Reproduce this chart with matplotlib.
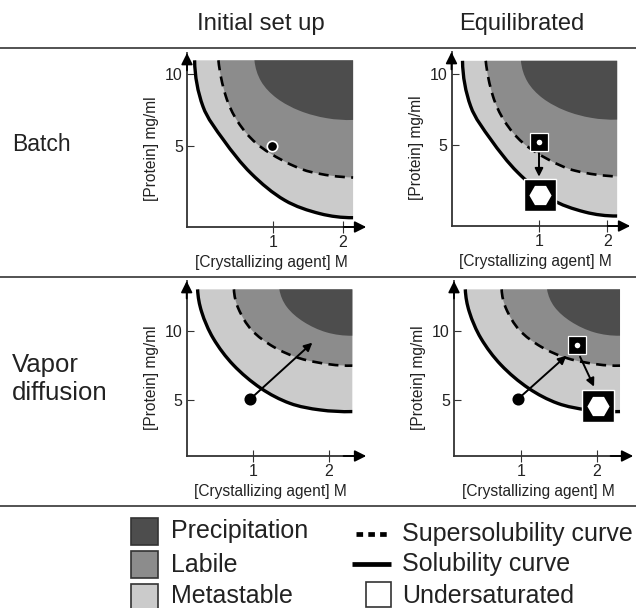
import numpy as np
import matplotlib
matplotlib.use("Agg")
import matplotlib.pyplot as plt
from matplotlib.path import Path
from matplotlib.patches import PathPatch, Rectangle

plt.rcParams["font.family"] = ["Liberation Sans", "DejaVu Sans"]

W, H = 636, 608

# curves, [Crystallizing agent] vs [Protein]
batch_sol_x = [-0.12, 0.0, 0.293, 0.688, 1.168, 1.673, 2.144]
batch_sol_y = [10.95, 7.74, 5.42, 3.09, 1.23, 0.30, 0.02]
batch_sup_x = [0.22, 0.327, 0.495, 0.76, 1.144, 1.53, 2.144]
batch_sup_y = [10.95, 8.44, 6.70, 5.19, 3.98, 3.21, 2.81]
batch_pre_x = [0.735, 0.83, 1.05, 1.385, 1.77, 2.144]
batch_pre_y = [10.95, 9.49, 8.33, 7.44, 6.93, 6.81]

vapor_sol_x = [0.264, 0.317, 0.471, 0.736, 1.101, 1.485, 1.881, 2.308]
vapor_sol_y = [12.97, 11.36, 9.45, 7.54, 5.86, 4.78, 4.31, 4.19]
vapor_sup_x = [0.744, 0.802, 0.978, 1.264, 1.617, 2.013, 2.308]
vapor_sup_y = [12.97, 11.6, 10.05, 8.85, 8.01, 7.58, 7.49]
vapor_pre_x = [1.344, 1.441, 1.661, 1.969, 2.308]
vapor_pre_y = [12.97, 11.72, 10.65, 9.88, 9.64]

x_ticks = [1, 2]
y_ticks = [5, 10]

batch_drop = (0.98, 5.0)
batch_small = (1.0, 5.23)
batch_big = (1.015, 1.5)
batch_arrow_y = (4.44, 2.79)

vapor_drop = (0.956, 5.07)
vapor_arrow_end = (1.78, 9.14)
vapor_eq_arrow_end = (1.6, 8.2)
vapor_small = (1.736, 8.97)
vapor_big = (2.013, 4.59)
vapor_arrow2 = ((1.78, 8.13), (1.965, 5.98))

legend_left = ["Precipitation", "Labile", "Metastable"]
legend_right = ["Supersolubility curve", "Solubility curve", "Undersaturated"]

PRE, LAB, MET = "#4d4d4d", "#8c8c8c", "#cbcbcb"
INK = "#333333"
TXT = "#222222"


# smooth curve through the read points, as bezier segments
def smooth(xs, ys):
    scale = np.array([1.0, 0.2])
    p = np.column_stack([xs, ys]) * scale
    tang = np.zeros_like(p)
    tang[1:-1] = p[2:] - p[:-2]
    tang /= np.maximum(np.linalg.norm(tang, axis=1, keepdims=True), 1e-9)
    first = (p[1] - p[0]) / np.linalg.norm(p[1] - p[0])
    last = (p[-1] - p[-2]) / np.linalg.norm(p[-1] - p[-2])
    tang[0] = 2 * first - tang[1]
    tang[-1] = 2 * last - tang[-2]
    verts = [p[0] / scale]
    codes = [Path.MOVETO]
    for i in range(len(p) - 1):
        d = np.linalg.norm(p[i + 1] - p[i]) / 3
        verts += [(p[i] + tang[i] * d) / scale, (p[i + 1] - tang[i + 1] * d) / scale, p[i + 1] / scale]
        codes += [Path.CURVE4] * 3
    return verts, codes


def region(ax, xs, ys, color):
    verts, codes = smooth(xs, ys)
    verts = verts + [(xs[-1], ys[0]), (xs[0], ys[0])]
    codes = codes + [Path.LINETO, Path.CLOSEPOLY]
    ax.add_patch(PathPatch(Path(verts, codes), fc=color, ec="none", zorder=1))


def curve(ax, xs, ys, **kw):
    verts, codes = smooth(xs, ys)
    ax.add_patch(PathPatch(Path(verts, codes), fill=False, ec="black", capstyle="butt", zorder=2, **kw))


def panel(box, xpx, ypx, curves, lab_cx):
    left, right, bottom, top = box
    ax = fig.add_axes([left / W, 1 - bottom / H, (right - left) / W, (bottom - top) / H])
    ux = xpx[1] - xpx[0]
    uy = (ypx[0] - ypx[1]) / 5
    ax.set_xlim(1 + (left - xpx[0]) / ux, 1 + (right - xpx[0]) / ux)
    ax.set_ylim(5 + (ypx[0] - bottom) / uy, 5 + (ypx[0] - top) / uy)
    ax.patch.set_alpha(0)
    for s in ["top", "right"]:
        ax.spines[s].set_visible(False)
    for s in ["left", "bottom"]:
        ax.spines[s].set_linewidth(1.3)
        ax.spines[s].set_color(INK)
    sol, sup, pre = curves
    region(ax, sol[0], sol[1], MET)
    region(ax, sup[0], sup[1], LAB)
    region(ax, pre[0], pre[1], PRE)
    curve(ax, sol[0], sol[1], lw=2.4)
    curve(ax, sup[0], sup[1], lw=1.9, linestyle=(0, (3.8, 2.4)))
    ax.set_xticks(x_ticks)
    ax.set_yticks(y_ticks)
    ax.tick_params(axis="x", direction="inout", length=8, width=0.8, color=INK, labelsize=11.5, pad=2, labelcolor=TXT)
    ax.tick_params(axis="y", direction="in", length=5, width=0.8, color=INK, labelsize=11.5, pad=3, labelcolor=TXT)
    ax.set_xlabel("[Crystallizing agent] M", fontsize=11.2, color=TXT)
    ax.set_ylabel("[Protein] mg/ml", fontsize=11.2, color=TXT)
    ax.xaxis.set_label_coords((lab_cx - left) / (right - left), -28 / (bottom - top))
    ax.yaxis.set_label_coords(-28 / (right - left), 0.45)
    ax.annotate("", xy=(1.03, 0), xytext=(0.9, 0), xycoords="axes fraction",
                arrowprops=dict(arrowstyle="-|>", color="black", lw=1.3, mutation_scale=17, shrinkA=0, shrinkB=0))
    ax.annotate("", xy=(0, 1.0), xytext=(0, 0.9), xycoords="axes fraction",
                arrowprops=dict(arrowstyle="-|>", color="black", lw=1.3, mutation_scale=17, shrinkA=0, shrinkB=0))
    return ax


def arrow(ax, a, b):
    ax.annotate("", xy=b, xytext=a, zorder=4,
                arrowprops=dict(arrowstyle="-|>", color="black", lw=1.4, mutation_scale=12, shrinkA=0, shrinkB=0))


def drop(ax, p, edge="black"):
    ax.plot(*p, "o", ms=7.5, mfc="black", mec=edge, mew=1.2, zorder=5)


def crystal(ax, small, big):
    ax.plot(*small, "s", ms=12.5, mfc="black", mec="white", mew=0.9, zorder=6)
    ax.plot(*small, "o", ms=4, mfc="white", mec="none", zorder=7)
    ax.plot(*big, "s", ms=23, mfc="black", mec="white", mew=1, zorder=6)
    ax.plot(*big, "H", ms=16, mfc="white", mec="none", zorder=7)


fig = plt.figure(figsize=(W / 100, H / 100), dpi=100)

batch = ((batch_sol_x, batch_sol_y), (batch_sup_x, batch_sup_y), (batch_pre_x, batch_pre_y))
vapor = ((vapor_sol_x, vapor_sol_y), (vapor_sup_x, vapor_sup_y), (vapor_pre_x, vapor_pre_y))

ax1 = panel((187, 361, 227, 53), (273, 343), (146, 74), batch, 271)
drop(ax1, batch_drop, edge="white")

ax2 = panel((451.5, 625, 226, 52), (539, 607.3), (145.3, 74.3), batch, 535)
arrow(ax2, (batch_small[0], batch_arrow_y[0]), (batch_small[0], batch_arrow_y[1]))
crystal(ax2, batch_small, batch_big)

ax3 = panel((186.7, 361, 456, 281), (253.3, 329), (400.3, 330.7), vapor, 270)
arrow(ax3, vapor_drop, vapor_arrow_end)
drop(ax3, vapor_drop)

ax4 = panel((454, 628, 456, 281), (521, 596.7), (400.3, 330.7), vapor, 538)
arrow(ax4, vapor_drop, vapor_eq_arrow_end)
drop(ax4, vapor_drop)
arrow(ax4, vapor_arrow2[0], vapor_arrow2[1])
crystal(ax4, vapor_small, vapor_big)

# overlay in pixels: rules, headings, legend
ov = fig.add_axes([0, 0, 1, 1], zorder=-1)
ov.set_xlim(0, W)
ov.set_ylim(H, 0)
ov.axis("off")
for y in [48, 277, 506]:
    ov.plot([0, W], [y, y], color="#444444", lw=1.3)

ov.text(261, 30, "Initial set up", fontsize=17.3, ha="center", color=TXT)
ov.text(522, 30, "Equilibrated", fontsize=17, ha="center", color=TXT)
ov.text(12, 151, "Batch", fontsize=16.5, color=TXT)
ov.text(12, 372, "Vapor", fontsize=18.5, color=TXT)
ov.text(12, 400, "diffusion", fontsize=18.5, color=TXT)

left_base = [538, 572, 603]
right_base = [541, 571, 603]
for i, (name, col) in enumerate(zip(legend_left, [PRE, LAB, MET])):
    ov.add_patch(Rectangle((131, 518 + 33 * i), 27, 27, fc=col, ec="#333333", lw=1.2))
    ov.text(171, left_base[i], name, fontsize=18, color=TXT)

for i, name in enumerate(legend_right):
    ov.text(402, right_base[i], name, fontsize=18, color=TXT)
ov.plot([356, 390], [534, 534], color="black", lw=3.4, linestyle=(0, (1.4, 1.1)))
ov.plot([352, 391], [564, 564], color="black", lw=3.4, solid_capstyle="butt")
ov.add_patch(Rectangle((366, 582), 25, 25, fc="white", ec="#333333", lw=1.2))

fig.savefig("out.png", dpi=100)
